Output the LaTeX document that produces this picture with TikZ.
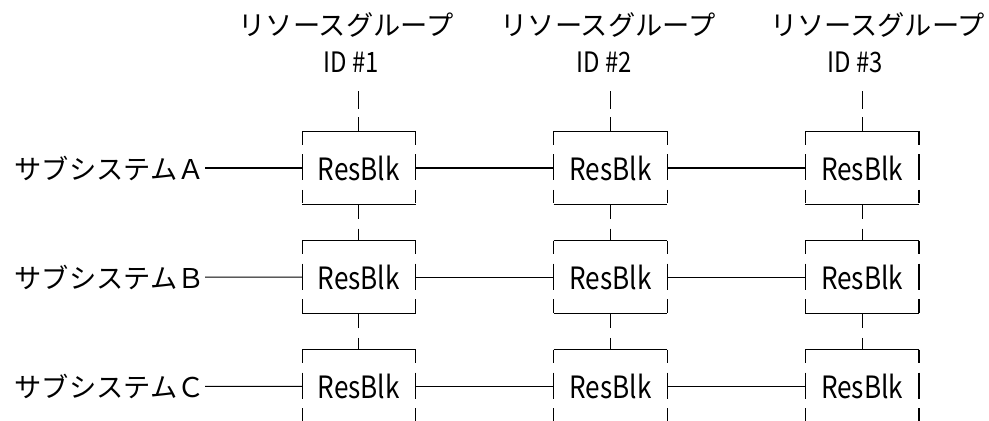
\documentclass[tikz,border=0pt]{standalone}
\usepackage{fontspec}
\setmainfont{Noto Sans CJK JP}
\newfontfamily\narrowfont[FakeStretch=0.85]{Noto Sans CJK JP}
\usetikzlibrary{positioning}

\begin{document}
\begin{tikzpicture}[x=0.02cm, y=-0.02cm, node distance=2.184cm and 5.035cm, on grid,
line width=0.6pt,
resblk/.style={rectangle, inner sep=0pt, minimum width=2.25cm, minimum height=1.446cm,
  font=\narrowfont\fontsize{17.5}{18}\selectfont},
subsys/.style={anchor=east, inner sep=0pt, font=\fontsize{15.5}{18}\selectfont},
group/.style={inner sep=0pt, font=\fontsize{15.5}{18}\selectfont},
groupid/.style={inner sep=0pt, font=\narrowfont\fontsize{16}{18}\selectfont},
side/.style={dash pattern=on 0.27cm off 0.19cm on 0.52cm off 0.19cm on 0.27cm},
stub/.style={dash pattern=on 0.36cm off 0.16cm on 0.28cm},
link/.style={dash pattern=on 0.28cm off 0.2cm on 0.26cm}
]
\useasboundingbox (0,0) rectangle (989,420);

% resource blocks
\node[resblk] (A1) at (358.8,168) {ResBlk};
\node[resblk] (A2) [right=of A1] {ResBlk};
\node[resblk] (A3) [right=of A2] {ResBlk};
\node[resblk] (B1) [below=of A1] {ResBlk};
\node[resblk] (B2) [right=of B1] {ResBlk};
\node[resblk] (B3) [right=of B2] {ResBlk};
\node[resblk] (C1) [below=of B1] {ResBlk};
\node[resblk] (C2) [right=of C1] {ResBlk};
\node[resblk] (C3) [right=of C2] {ResBlk};

% group headings
\node[group] (T1) at (346,25) {リソースグループ};
\node[groupid] (I1) at (351,62) {ID \#1};
\node[group] (T2) at (608,25) {リソースグループ};
\node[groupid] (I2) at (604.5,62) {ID \#2};
\node[group] (T3) at (877.5,25) {リソースグループ};
\node[groupid] (I3) at (855,62) {ID \#3};
\coordinate[above=0.8cm of A1.north] (S1);
\coordinate[above=0.8cm of A2.north] (S2);
\coordinate[above=0.8cm of A3.north] (S3);

% subsystems
\node[subsys] (subA) at (205,168) {サブシステムＡ};
\node[subsys] (subB) at (205,277.2) {サブシステムＢ};
\node[subsys] (subC) at (205,386.4) {サブシステムＣ};

\foreach \b in {A1,A2,A3,B1,B2,B3,C1,C2,C3} {
  \draw (\b.north west) -- (\b.north east);
  \draw (\b.south west) -- (\b.south east);
  \draw[side] (\b.north west) -- (\b.south west);
  \draw[side] (\b.north east) -- (\b.south east);
}
\foreach \c in {1,2,3} {
  \draw[stub] (S\c) -- (A\c.north);
  \draw[link] (A\c.south) -- (B\c.north);
  \draw[link] (B\c.south) -- (C\c.north);
}
\foreach \r in {A,B,C} {
  \draw (sub\r.east) -- (\r1.west);
  \draw (\r1.east) -- (\r2.west);
  \draw (\r2.east) -- (\r3.west);
}
\end{tikzpicture}
\end{document}
